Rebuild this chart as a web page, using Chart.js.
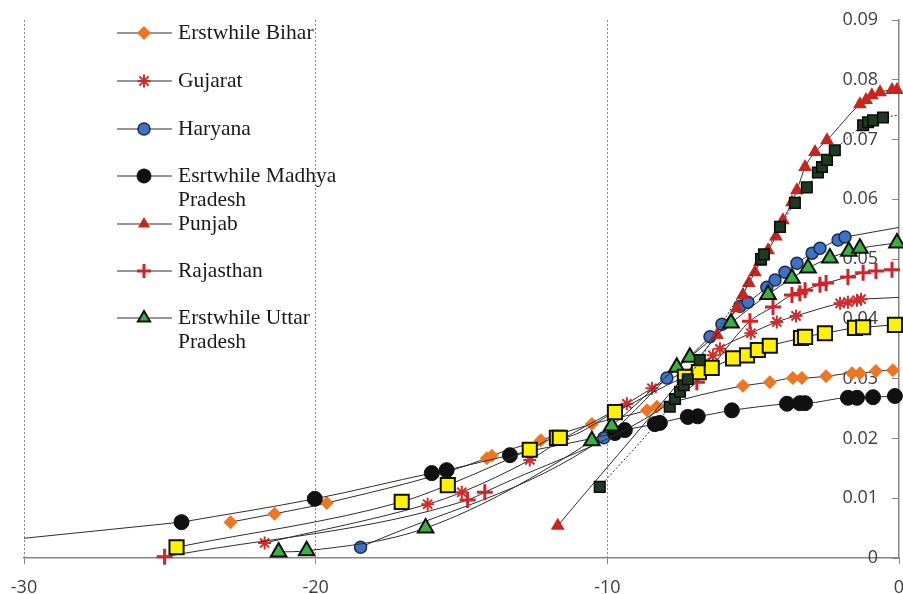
<!DOCTYPE html>
<html>
<head>
<meta charset="utf-8">
<script src="https://cdn.jsdelivr.net/npm/chart.js@4.4.1/dist/chart.umd.min.js"></script>
<style>
  html, body { margin: 0; padding: 0; background: #fff; }
</style>
</head>
<body>
<canvas id="chart" width="903" height="594"></canvas>
<script>
// values (x = years, y = share)
const biharX = [-22.92, -21.41, -19.62, -14.13, -13.96, -12.28, -10.53, -8.64, -8.30, -5.35, -4.43, -3.64, -3.33, -2.50, -1.61, -1.34, -0.79, -0.21];
const biharY = [0.0060, 0.0074, 0.0092, 0.0167, 0.0171, 0.0197, 0.0224, 0.0247, 0.0253, 0.0288, 0.0294, 0.0301, 0.0301, 0.0304, 0.0309, 0.0309, 0.0313, 0.0314];

const gujaratX = [-21.75, -16.16, -14.99, -12.66, -11.53, -9.33, -8.47, -6.38, -6.14, -5.08, -4.19, -3.53, -2.02, -1.75, -1.44, -1.30];
const gujaratY = [0.0025, 0.0090, 0.0110, 0.0164, 0.0199, 0.0258, 0.0284, 0.0339, 0.0350, 0.0376, 0.0395, 0.0405, 0.0426, 0.0428, 0.0431, 0.0433];

const haryanaX = [-18.46, -10.12, -7.96, -6.48, -6.07, -5.45, -5.18, -4.53, -4.25, -3.91, -3.50, -2.98, -2.71, -2.09, -1.85];
const haryanaY = [0.0018, 0.0201, 0.0301, 0.0370, 0.0391, 0.0421, 0.0428, 0.0453, 0.0465, 0.0478, 0.0493, 0.0510, 0.0518, 0.0532, 0.0537];

const mpX = [-24.60, -20.03, -16.02, -15.51, -13.34, -9.74, -9.40, -8.37, -8.20, -7.24, -6.90, -5.73, -3.84, -3.40, -3.22, -1.75, -1.44, -0.89, -0.14];
const mpY = [0.0060, 0.0099, 0.0142, 0.0147, 0.0172, 0.0209, 0.0214, 0.0224, 0.0226, 0.0236, 0.0237, 0.0247, 0.0258, 0.0259, 0.0259, 0.0268, 0.0268, 0.0269, 0.0271];

const punjabX = [-11.70, -6.24, -5.56, -5.35, -5.15, -4.94, -4.77, -4.49, -4.22, -3.98, -3.67, -3.50, -3.22, -2.88, -2.47, -1.34, -1.13, -0.93, -0.65, -0.24, -0.07];
const punjabY = [0.0054, 0.0373, 0.0418, 0.0440, 0.0460, 0.0478, 0.0495, 0.0515, 0.0538, 0.0565, 0.0595, 0.0615, 0.0654, 0.0679, 0.0699, 0.0759, 0.0766, 0.0774, 0.0779, 0.0783, 0.0783];

const rajasthanX = [-25.18, -14.79, -14.20, -6.93, -5.11, -4.32, -3.67, -3.40, -3.22, -2.71, -2.50, -1.75, -1.23, -0.79, -0.24];
const rajasthanY = [0.0002, 0.0097, 0.0110, 0.0294, 0.0396, 0.0420, 0.0440, 0.0443, 0.0448, 0.0457, 0.0460, 0.0470, 0.0477, 0.0480, 0.0482];

const upX = [-21.27, -20.31, -16.23, -10.53, -9.85, -7.62, -7.17, -5.76, -4.49, -3.67, -3.12, -2.37, -1.72, -1.34, -0.07];
const upY = [0.0010, 0.0012, 0.0050, 0.0196, 0.0221, 0.0319, 0.0336, 0.0393, 0.0441, 0.0468, 0.0485, 0.0502, 0.0513, 0.0518, 0.0527];

// two series without a legend entry
const yellowX = [-24.77, -17.05, -15.47, -12.66, -11.73, -11.63, -9.74, -7.34, -6.86, -6.42, -5.69, -5.21, -4.84, -4.43, -3.36, -3.22, -2.54, -1.51, -1.23, -0.14];
const yellowY = [0.0018, 0.0094, 0.0122, 0.0181, 0.0201, 0.0201, 0.0244, 0.0303, 0.0311, 0.0318, 0.0334, 0.0339, 0.0348, 0.0355, 0.0368, 0.0370, 0.0376, 0.0385, 0.0386, 0.0390];

const darkX = [-10.26, -7.86, -7.68, -7.51, -7.38, -7.24, -6.83, -4.73, -4.63, -4.08, -3.57, -3.16, -2.78, -2.64, -2.47, -2.20, -1.23, -1.06, -0.89, -0.55];
const darkY = [0.0119, 0.0253, 0.0266, 0.0278, 0.0289, 0.0299, 0.0331, 0.0500, 0.0508, 0.0554, 0.0594, 0.0620, 0.0645, 0.0654, 0.0666, 0.0682, 0.0724, 0.0729, 0.0732, 0.0737];

// ends of the fitted curves that run past the data
const mpFitX = [-30, -24.60];
const mpFitY = [0.0033, 0.0060];
const haryanaFitX = [-1.85, 0];
const haryanaFitY = [0.0537, 0.0553];
const gujaratFitX = [-1.30, 0];
const gujaratFitY = [0.0433, 0.0436];
const darkFitX = [-0.55, 0];
const darkFitY = [0.0737, 0.0741];

const legendLabels = [
    ["Erstwhile Bihar"],
    ["Gujarat"],
    ["Haryana"],
    ["Esrtwhile Madhya", "Pradesh"],
    ["Punjab"],
    ["Rajasthan"],
    ["Erstwhile Uttar", "Pradesh"]
];

const LINE = "#2e2e2e";
const AXIS = "#868686";

function toPoints(xs, ys) {
    return xs.map((x, i) => ({ x: x, y: ys[i] }));
}

function series(label, xs, ys, style) {
    return Object.assign({
        label: label,
        data: toPoints(xs, ys),
        showLine: true,
        borderColor: LINE,
        borderWidth: 1,
        cubicInterpolationMode: "monotone",
        clip: false
    }, style);
}

function fitLine(xs, ys, dash) {
    return {
        label: "",
        data: toPoints(xs, ys),
        showLine: true,
        borderColor: LINE,
        borderWidth: 1,
        borderDash: dash || [],
        pointRadius: 0,
        order: 20,
        clip: false
    };
}

const datasets = [
    series(legendLabels[0][0], biharX, biharY, {
        pointStyle: "rectRot", pointRadius: 7, pointBackgroundColor: "#EE7623",
        pointBorderColor: "#EE7623", pointBorderWidth: 0, order: 9
    }),
    series(legendLabels[1][0], gujaratX, gujaratY, {
        pointStyle: "star", pointRadius: 6.5, pointBorderColor: "#D22B2B",
        pointBackgroundColor: "#D22B2B", pointBorderWidth: 2, order: 8
    }),
    series(legendLabels[2][0], haryanaX, haryanaY, {
        pointStyle: "circle", pointRadius: 6, pointBackgroundColor: "#3F72C4",
        pointBorderColor: "#1c2c4c", pointBorderWidth: 1.5, order: 7
    }),
    series(legendLabels[3].join(" "), mpX, mpY, {
        pointStyle: "circle", pointRadius: 7.5, pointBackgroundColor: "#111111",
        pointBorderColor: "#111111", pointBorderWidth: 1, order: 6
    }),
    series(legendLabels[4][0], punjabX, punjabY, {
        pointStyle: "triangle", pointRadius: 8, pointBackgroundColor: "#C9251F",
        pointBorderColor: "#C9251F", pointBorderWidth: 0, order: 5
    }),
    series(legendLabels[5][0], rajasthanX, rajasthanY, {
        pointStyle: "cross", pointRadius: 8, pointBorderColor: "#D2232A",
        pointBackgroundColor: "#D2232A", pointBorderWidth: 3, order: 4
    }),
    series(legendLabels[6].join(" "), upX, upY, {
        pointStyle: "triangle", pointRadius: 9, pointBackgroundColor: "#3CB043",
        pointBorderColor: "#111111", pointBorderWidth: 2, order: 3
    }),
    series("yellow", yellowX, yellowY, {
        pointStyle: "rect", pointRadius: 10, pointBackgroundColor: "#FFF200",
        pointBorderColor: "#111111", pointBorderWidth: 2, order: 2
    }),
    series("dark", darkX, darkY, {
        pointStyle: "rect", pointRadius: 7.5, pointBackgroundColor: "#1F3A22",
        pointBorderColor: "#0b0b0b", pointBorderWidth: 1.5, borderDash: [2, 2], order: 1
    }),
    fitLine(mpFitX, mpFitY),
    fitLine(haryanaFitX, haryanaFitY),
    fitLine(gujaratFitX, gujaratFitY),
    fitLine(darkFitX, darkFitY, [2, 2])
];

// legend drawn by hand, it sits inside the plot and has two-line labels
const legendRowY = [33, 81, 129, 176, 224, 271, 318];

const sideLegend = {
    id: "sideLegend",
    afterDraw(chart) {
        const ctx = chart.ctx;
        ctx.save();
        ctx.font = '21.5px "Liberation Serif", "Times New Roman", serif';
        ctx.textBaseline = "middle";
        legendLabels.forEach((lines, i) => {
            const ds = chart.data.datasets[i];
            const y = legendRowY[i];
            ctx.strokeStyle = LINE;
            ctx.lineWidth = 1;
            ctx.setLineDash([]);
            ctx.beginPath();
            ctx.moveTo(117, y);
            ctx.lineTo(172, y);
            ctx.stroke();

            ctx.fillStyle = ds.pointBackgroundColor;
            ctx.strokeStyle = ds.pointBorderColor;
            ctx.lineWidth = ds.pointBorderWidth;
            Chart.helpers.drawPoint(ctx, {
                pointStyle: ds.pointStyle,
                radius: Math.min(ds.pointRadius, 7),
                rotation: 0,
                borderWidth: ds.pointBorderWidth
            }, 144, y);

            ctx.fillStyle = "#1a1a1a";
            lines.forEach((t, k) => ctx.fillText(t, 178, y + k * 24.5));
        });
        ctx.restore();
    }
};

const noPad = (scale) => {
    scale.paddingTop = 0;
    scale.paddingBottom = 0;
};

Chart.defaults.font.family = '"Open Sans", sans-serif';

new Chart(document.getElementById("chart"), {
    type: "scatter",
    data: { datasets: datasets },
    options: {
        responsive: false,
        animation: false,
        layout: {
            autoPadding: false, // keep markers from pushing the plot area in
            padding: { left: 24, right: 4, top: 20, bottom: 0 }
        },
        plugins: {
            legend: { display: false },
            tooltip: { enabled: false }
        },
        scales: {
            x: {
                type: "linear",
                position: "bottom",
                min: -30,
                max: 0,
                afterFit: (scale) => {
                    scale.height = 36;
                    scale.paddingLeft = 0;
                    scale.paddingRight = 0;
                },
                ticks: {
                    stepSize: 10,
                    color: "#404040",
                    font: { size: 18 },
                    padding: 13,
                    maxRotation: 0
                },
                grid: {
                    color: (c) => (c.tick && c.tick.value === 0) ? "rgba(0,0,0,0)" : "#8a8a8a",
                    tickColor: AXIS,
                    tickLength: 6,
                    tickBorderDash: []
                },
                border: { color: AXIS, width: 1.5, dash: [2, 2] }
            },
            // axis line and tick marks, crossing at x = 0
            y: {
                type: "linear",
                position: { x: 0 },
                min: 0,
                max: 0.09,
                afterFit: noPad,
                ticks: { stepSize: 0.01, display: false },
                grid: {
                    drawOnChartArea: false,
                    color: AXIS,
                    tickLength: 6
                },
                border: { color: AXIS, width: 1.5 }
            },
            // its labels, set a little to the left of the line
            yLabels: {
                type: "linear",
                axis: "y",
                position: { x: -0.72 },
                min: 0,
                max: 0.09,
                afterFit: noPad,
                ticks: {
                    stepSize: 0.01,
                    color: "#404040",
                    font: { size: 18 },
                    padding: 0,
                    callback: (v) => v === 0 ? "0" : v.toFixed(2)
                },
                grid: { display: false },
                border: { display: false }
            }
        }
    },
    plugins: [sideLegend]
});
</script>
</body>
</html>
